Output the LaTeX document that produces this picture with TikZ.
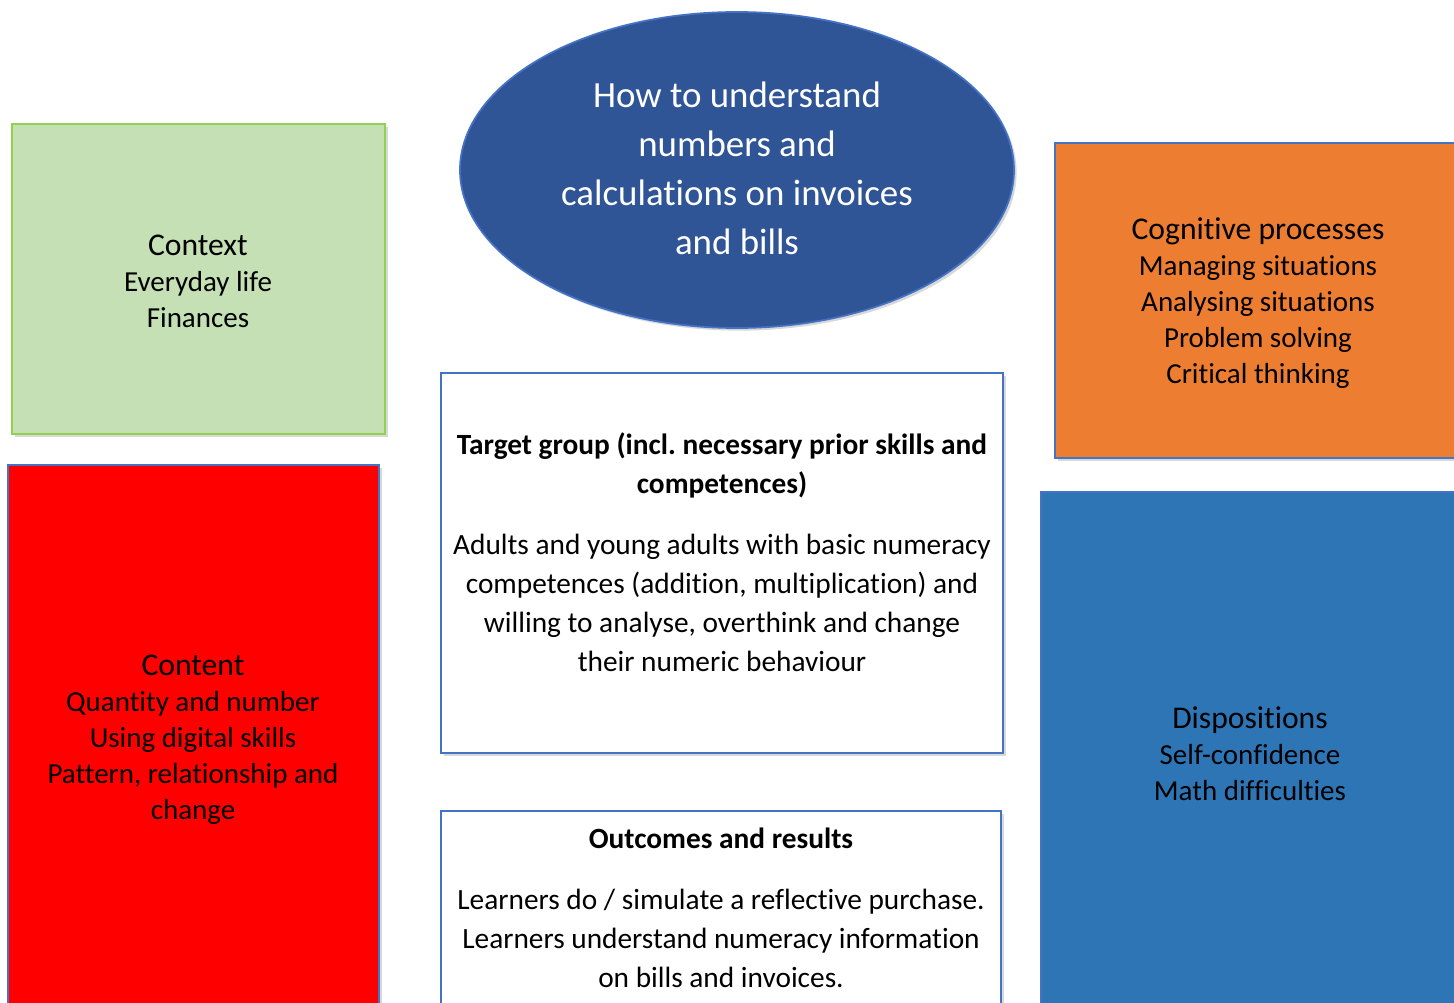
\documentclass[tikz,border=0pt]{standalone}
\usepackage{fontspec}
\setmainfont{Carlito}[Ligatures={NoCommon}]
\frenchspacing
\usetikzlibrary{shapes.geometric,shadows}
\definecolor{frameblue}{HTML}{4472C4}
\definecolor{ellfill}{HTML}{2F5597}
\definecolor{greenfill}{HTML}{C5E0B4}
\definecolor{greenline}{HTML}{92D050}
\definecolor{orangefill}{HTML}{ED7D31}
\definecolor{bluefill}{HTML}{2E75B6}
\definecolor{redfill}{HTML}{FF0000}
\tikzset{
  softshadow/.style={drop shadow={shadow xshift=1.5pt, shadow yshift=-1.5pt, opacity=0.25, fill=black!60}},
  panel/.style={rectangle, draw=frameblue, line width=1pt, inner sep=0pt, softshadow},
  boxtext/.style={align=center, text=black, inner sep=0pt, font=\fontsize{16.5}{20.5}\selectfont},
  midtext/.style={align=center, text=black, inner sep=0pt, font=\fontsize{16.7}{22.2}\selectfont},
}
\newcommand{\hd}[1]{{\fontsize{18}{20.5}\selectfont #1}}
\begin{document}
\begin{tikzpicture}[x=0.02cm, y=-0.02cm]
\clip (0,0) rectangle (1454,1003);
\fill[white] (0,0) rectangle (1454,1003);
% Context (green)
\node[panel, draw=greenline, fill=greenfill, minimum width=373*0.02cm, minimum height=310*0.02cm] (ctx) at (198.5,279) {};
\node[boxtext] (ctxt) at (198,281) {\hd{Context}\\Everyday life\\Finances};
% Content (red)
\node[panel, fill=redfill, minimum width=371*0.02cm, minimum height=550*0.02cm] (cnt) at (193.5,740) {};
\node[boxtext] (cntt) at (193,740) {\hd{Content}\\Quantity and number\\Using digital skills\\Pattern, relationship and\\change};
% Title ellipse
\node[ellipse, draw=frameblue, line width=1pt, fill=ellfill, softshadow, minimum width=554*0.02cm, minimum height=316*0.02cm, inner sep=0pt] (title) at (737,170) {};
\node[align=center, text=white, inner sep=0pt, font=\fontsize{21}{27.9}\selectfont] (titlet) at (737,168) {How to understand\\numbers and\\calculations on invoices\\and bills};
% Cognitive processes (orange)
\node[panel, fill=orangefill, minimum width=406*0.02cm, minimum height=315*0.02cm] (cog) at (1258,300.5) {};
\node[boxtext] (cogt) at (1258,303) {\hd{Cognitive processes}\\Managing situations\\Analysing situations\\Problem solving\\Critical thinking};
% Dispositions (blue)
\node[panel, fill=bluefill, minimum width=418*0.02cm, minimum height=522*0.02cm] (dis) at (1250,753) {};
\node[boxtext] (dist) at (1250,754) {\hd{Dispositions}\\Self-confidence\\Math difficulties};
% Target group
\node[panel, fill=white, minimum width=562*0.02cm, minimum height=380*0.02cm] (tg) at (722,563) {};
\node[midtext] (tgt) at (722,552) {\textbf{Target group (incl. necessary prior skills and}\\\textbf{competences)}\\[12.5pt]Adults and young adults with basic numeracy\\competences (addition, multiplication) and\\willing to analyse, overthink and change\\their numeric behaviour};
% Outcomes and results
\node[panel, fill=white, minimum width=560*0.02cm, minimum height=260*0.02cm] (out) at (721,941) {};
\node[midtext, anchor=north] (outt) at (721,828) {\textbf{Outcomes and results}\\[12.5pt]Learners do / simulate a reflective purchase.\\Learners understand numeracy information\\on bills and invoices.};
\end{tikzpicture}
\end{document}
